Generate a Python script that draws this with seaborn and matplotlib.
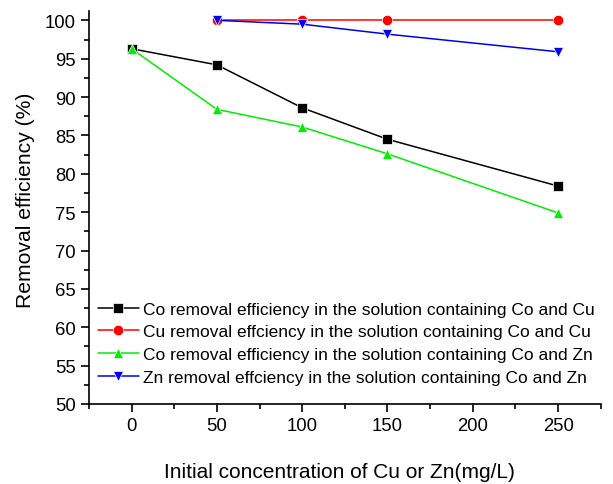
import numpy as np
import pandas as pd
import matplotlib
matplotlib.use("Agg")
import matplotlib.pyplot as plt
from matplotlib.ticker import MultipleLocator
import seaborn as sns

# Removal efficiency (%) versus initial concentration of Cu or Zn (mg/L)
conc_co_cu = [0, 50, 100, 150, 250]
co_in_cu = [96.3, 94.2, 88.6, 84.5, 78.4]

conc_cu = [50, 100, 150, 250]
cu_in_cu = [100.0, 100.0, 100.0, 100.0]

conc_co_zn = [0, 50, 100, 150, 250]
co_in_zn = [96.3, 88.4, 86.1, 82.6, 74.9]

conc_zn = [50, 100, 150, 250]
zn_in_zn = [100.0, 99.5, 98.2, 95.9]

labels = [
    "Co removal efficiency in the solution containing Co and Cu",
    "Cu removal effciency in the solution containing Co and Cu",
    "Co removal efficiency in the solution containing Co and Zn",
    "Zn removal effciency in the solution containing Co and Zn",
]
colors = ["#000000", "#ff0000", "#00ee00", "#0000ee"]
markers = ["s", "o", "^", "v"]

frames = []
for lab, xs, ys in zip(labels, [conc_co_cu, conc_cu, conc_co_zn, conc_zn],
                       [co_in_cu, cu_in_cu, co_in_zn, zn_in_zn]):
    frames.append(pd.DataFrame({"conc": xs, "eff": ys, "series": lab}))
df = pd.concat(frames, ignore_index=True)

sns.set_style("ticks")
plt.rcParams["font.family"] = ["Liberation Sans", "DejaVu Sans"]
plt.rcParams["text.color"] = "black"
plt.rcParams["axes.labelcolor"] = "black"
plt.rcParams["xtick.color"] = "black"
plt.rcParams["ytick.color"] = "black"

fig = plt.figure(figsize=(6.13, 4.85), dpi=100)
ax = fig.add_axes([0.145, 0.165, 0.835, 0.81])

sns.lineplot(data=df, x="conc", y="eff", hue="series", style="series",
             hue_order=labels, style_order=labels,
             palette=dict(zip(labels, colors)),
             markers=dict(zip(labels, markers)), dashes=False,
             markersize=7.5, linewidth=1.1, markeredgewidth=0.5,
             ax=ax, legend="full")

ax.set_xlim(-25, 275)
ax.set_ylim(50, 101.2)
ax.xaxis.set_major_locator(MultipleLocator(50))
ax.xaxis.set_minor_locator(MultipleLocator(25))
ax.yaxis.set_major_locator(MultipleLocator(5))
ax.yaxis.set_minor_locator(MultipleLocator(2.5))
ax.tick_params(which="major", direction="out", length=6, width=1.2, labelsize=13.3,
               colors="black", labelcolor="black")
ax.tick_params(which="minor", direction="out", length=3.5, width=1.2, colors="black")

for side in ["top", "right"]:
    ax.spines[side].set_visible(False)
for side in ["left", "bottom"]:
    ax.spines[side].set_linewidth(1.2)
    ax.spines[side].set_color("black")

ax.set_xlabel("Initial concentration of Cu or Zn(mg/L)", fontsize=15.0, color="black")
ax.set_ylabel("Removal efficiency (%)", fontsize=15.2, color="black")
ax.xaxis.set_label_coords(0.49, -0.148)
ax.yaxis.set_label_coords(-0.106, 0.52)

handles, labs = ax.get_legend_handles_labels()
leg = ax.legend(handles, labs, loc="lower left", bbox_to_anchor=(0.0, 0.027),
                frameon=False, fontsize=12.5, handlelength=2.4, handletextpad=0.2,
                labelspacing=0.43, borderaxespad=0.1)
for t in leg.get_texts():
    t.set_color("black")

fig.savefig("out.png", dpi=100, facecolor="white")
